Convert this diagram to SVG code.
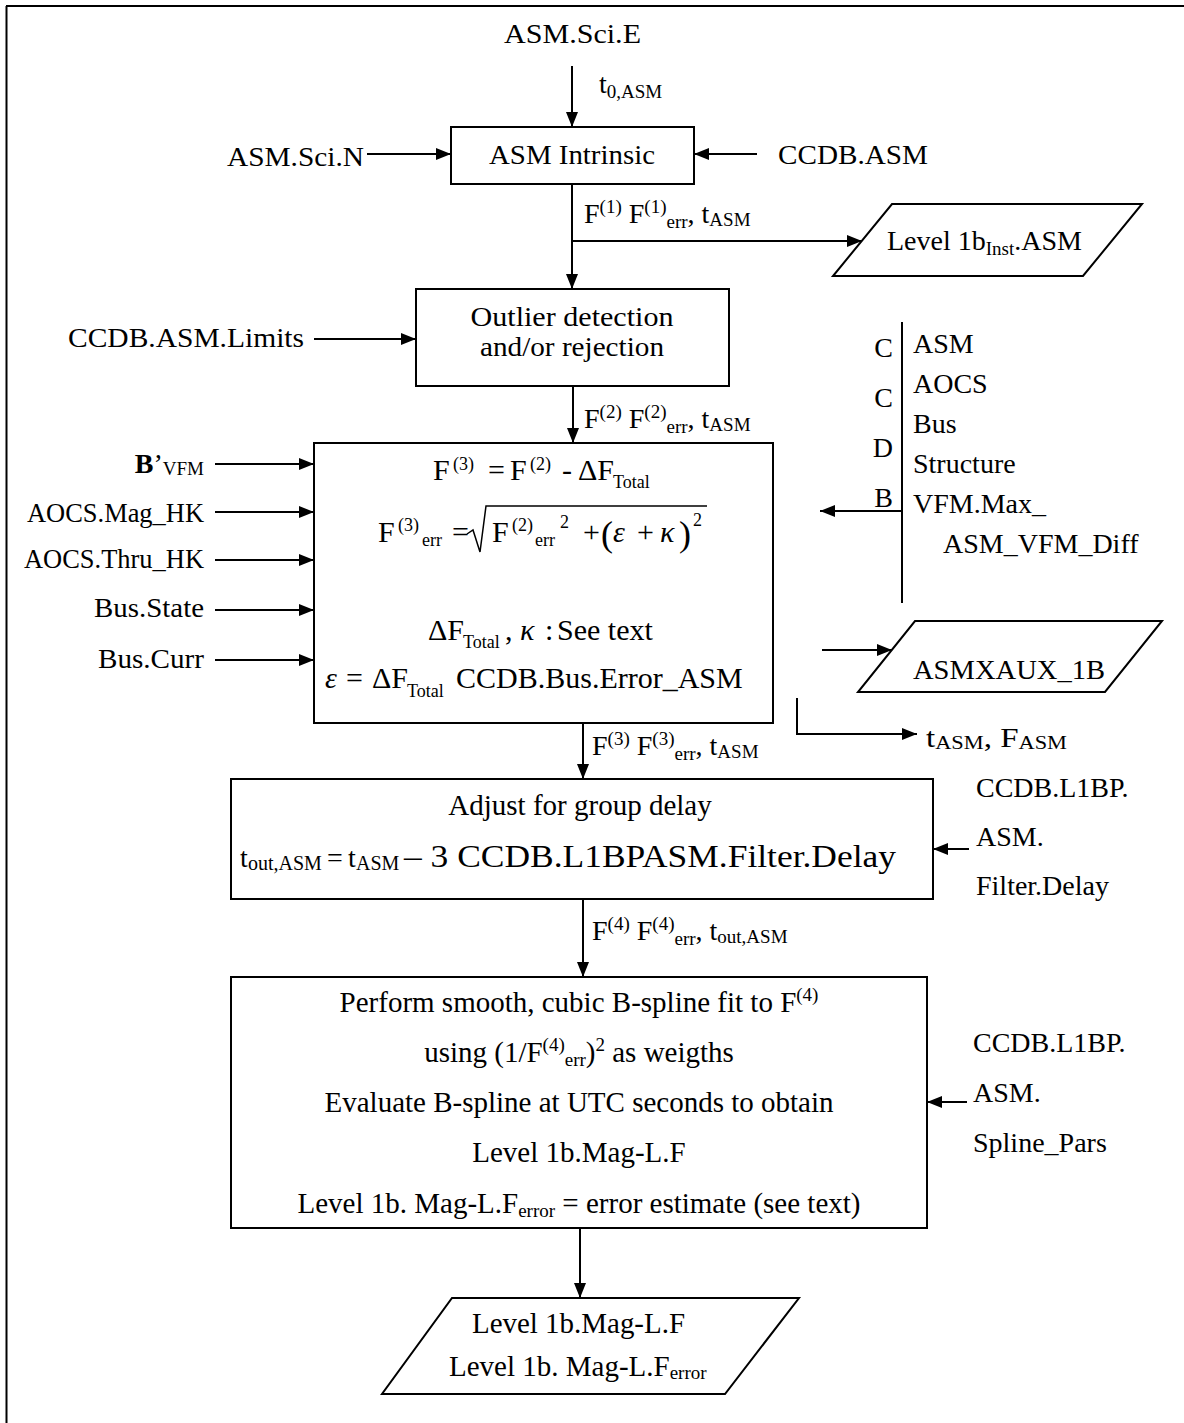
<svg xmlns="http://www.w3.org/2000/svg" width="1184" height="1423" viewBox="0 0 1184 1423">
<style>
text{font-family:"Liberation Serif","Times New Roman",serif;font-size:28px;fill:#000}
.s{font-size:19px}
.f{font-size:30px}
.fs{font-size:18px}
.b{font-size:29px}
.i{font-style:italic}
.bold{font-weight:bold}
.ln{stroke:#000;stroke-width:2;fill:none}
.box{stroke:#000;stroke-width:2;fill:#fff}
.ar{marker-end:url(#ah)}
.mid{text-anchor:middle}
.end{text-anchor:end}
</style>
<defs>
<marker id="ah" markerWidth="15" markerHeight="12" refX="15" refY="6" orient="auto" markerUnits="userSpaceOnUse"><path d="M0,0 L15,6 L0,12 z" fill="#000"/></marker>
</defs>
<rect width="1184" height="1423" fill="#fff"/>
<g id="frame" class="ln">
<line x1="6" y1="6" x2="1184" y2="6"/>
<line x1="6.5" y1="6" x2="6.5" y2="1423"/>
</g>

<g id="connectors" class="ln">
<line class="ar" x1="572" y1="66" x2="572" y2="127"/>
<line class="ar" x1="367" y1="154" x2="451" y2="154"/>
<line class="ar" x1="757" y1="154" x2="694" y2="154"/>
<line class="ar" x1="572" y1="184" x2="572" y2="289"/>
<line class="ar" x1="572" y1="241" x2="862" y2="241"/>
<line class="ar" x1="314" y1="339" x2="416" y2="339"/>
<line class="ar" x1="573" y1="386" x2="573" y2="443"/>
<line class="ar" x1="215" y1="464" x2="314" y2="464"/>
<line class="ar" x1="215" y1="512" x2="314" y2="512"/>
<line class="ar" x1="215" y1="560" x2="314" y2="560"/>
<line class="ar" x1="215" y1="610" x2="314" y2="610"/>
<line class="ar" x1="215" y1="660" x2="314" y2="660"/>
<line x1="902" y1="322" x2="902" y2="603"/>
<line class="ar" x1="902" y1="511" x2="820" y2="511"/>
<line class="ar" x1="822" y1="650" x2="892" y2="650"/>
<polyline class="ar" points="797,698 797,734 917,734"/>
<line class="ar" x1="583" y1="723" x2="583" y2="779"/>
<line class="ar" x1="969" y1="849" x2="933" y2="849"/>
<line class="ar" x1="583" y1="899" x2="583" y2="977"/>
<line class="ar" x1="967" y1="1102" x2="927" y2="1102"/>
<line class="ar" x1="580" y1="1228" x2="580" y2="1298"/>
</g>

<g id="in-asm-sci-e"><text x="504" y="43" textLength="137" lengthAdjust="spacingAndGlyphs">ASM.Sci.E</text></g>
<g id="lbl-t0"><text x="599" y="93">t<tspan class="s" dy="5">0,ASM</tspan></text></g>
<g id="in-asm-sci-n"><text x="227" y="166" textLength="137" lengthAdjust="spacingAndGlyphs">ASM.Sci.N</text></g>
<g id="in-ccdb-asm"><text x="778" y="164" textLength="150" lengthAdjust="spacingAndGlyphs">CCDB.ASM</text></g>

<g id="asm-intrinsic">
<rect class="box" x="451" y="127" width="243" height="57"/>
<text x="489" y="164" textLength="166" lengthAdjust="spacingAndGlyphs">ASM Intrinsic</text>
</g>

<g id="lbl-f1"><text x="584" y="223">F<tspan class="s" dy="-10">(1)</tspan><tspan dy="10"> F</tspan><tspan class="s" dy="-10">(1)</tspan><tspan class="s" dy="15">err</tspan><tspan dy="-5">, t</tspan><tspan class="s" dy="3">ASM</tspan></text></g>

<g id="out-level1b-inst">
<polygon class="box" points="892,204 1142,204 1083,276 833,276"/>
<text x="887" y="250">Level 1b<tspan class="s" dy="5">Inst</tspan><tspan dy="-5">.ASM</tspan></text>
</g>

<g id="in-ccdb-limits"><text x="68" y="347" textLength="236" lengthAdjust="spacingAndGlyphs">CCDB.ASM.Limits</text></g>

<g id="outlier">
<rect class="box" x="416" y="289" width="313" height="97"/>
<text class="mid" x="572" y="326" textLength="203" lengthAdjust="spacingAndGlyphs">Outlier detection</text>
<text class="mid" x="572" y="356" textLength="184" lengthAdjust="spacingAndGlyphs">and/or rejection</text>
</g>

<g id="lbl-f2"><text x="584" y="428">F<tspan class="s" dy="-10">(2)</tspan><tspan dy="10"> F</tspan><tspan class="s" dy="-10">(2)</tspan><tspan class="s" dy="15">err</tspan><tspan dy="-5">, t</tspan><tspan class="s" dy="3">ASM</tspan></text></g>

<g id="ccdb-list">
<text class="end" x="893" y="357">C</text>
<text class="end" x="893" y="407">C</text>
<text class="end" x="893" y="457">D</text>
<text class="end" x="893" y="507">B</text>
<text x="913" y="353">ASM</text>
<text x="913" y="393">AOCS</text>
<text x="913" y="433">Bus</text>
<text x="913" y="473">Structure</text>
<text x="913" y="513">VFM.Max_</text>
<text x="943" y="553">ASM_VFM_Diff</text>
</g>

<g id="left-inputs">
<text class="end" x="204" y="473"><tspan class="bold">B</tspan>’<tspan class="s" dy="2">VFM</tspan></text>
<text class="end" x="204" y="522" textLength="177" lengthAdjust="spacingAndGlyphs">AOCS.Mag_HK</text>
<text class="end" x="204" y="568" textLength="180" lengthAdjust="spacingAndGlyphs">AOCS.Thru_HK</text>
<text class="end" x="204" y="617" textLength="110" lengthAdjust="spacingAndGlyphs">Bus.State</text>
<text class="end" x="204" y="668" textLength="106" lengthAdjust="spacingAndGlyphs">Bus.Curr</text>
</g>

<g id="correction">
<rect class="box" x="314" y="443" width="459" height="280"/>
<text class="f"><tspan x="433" y="480">F</tspan><tspan class="fs" x="453" y="470">(3)</tspan><tspan x="488" y="480">=</tspan><tspan x="510" y="480">F</tspan><tspan class="fs" x="530" y="470">(2)</tspan><tspan x="562" y="480">-</tspan><tspan x="578" y="480">ΔF</tspan><tspan class="fs" x="613" y="488">Total</tspan></text>
<text class="f"><tspan x="378" y="542">F</tspan><tspan class="fs" x="398" y="531">(3)</tspan><tspan class="fs" x="422" y="546">err</tspan><tspan x="452" y="542">=</tspan><tspan x="492" y="542">F</tspan><tspan class="fs" x="512" y="531">(2)</tspan><tspan class="fs" x="535" y="546">err</tspan><tspan class="fs" x="560" y="528">2</tspan><tspan x="583" y="542">+</tspan><tspan x="601" y="546" style="font-size:36px">(</tspan><tspan class="i" x="613" y="542">ε</tspan><tspan x="637" y="542">+</tspan><tspan class="i" x="660" y="542">κ</tspan><tspan x="679" y="546" style="font-size:36px">)</tspan><tspan class="fs" x="693" y="526">2</tspan></text>
<polyline class="ln" points="467,534 473,530 480,552 486,506 707,506" style="stroke-width:1.5"/>
<text class="f"><tspan x="428" y="640">ΔF</tspan><tspan class="fs" x="463" y="648">Total</tspan><tspan x="505" y="640">,</tspan><tspan class="i" x="520" y="640">κ</tspan><tspan x="545" y="640">:</tspan><tspan x="557" y="640">See text</tspan></text>
<text class="f"><tspan class="i" x="325" y="688">ε</tspan><tspan x="346" y="688">=</tspan><tspan x="372" y="688">ΔF</tspan><tspan class="fs" x="407" y="697">Total</tspan><tspan x="456" y="688">CCDB.Bus.Error_ASM</tspan></text>
</g>

<g id="out-asmxaux">
<polygon class="box" points="915,621 1162,621 1105,692 858,692"/>
<text x="913" y="679" textLength="192" lengthAdjust="spacingAndGlyphs">ASMXAUX_1B</text>
</g>

<g id="out-tasm-fasm"><text x="926" y="747" textLength="141" lengthAdjust="spacingAndGlyphs">t<tspan class="s" dy="2">ASM</tspan><tspan dy="-2">, F</tspan><tspan class="s" dy="2">ASM</tspan></text></g>

<g id="lbl-f3"><text x="592" y="755">F<tspan class="s" dy="-10">(3)</tspan><tspan dy="10">  F</tspan><tspan class="s" dy="-10">(3)</tspan><tspan class="s" dy="15">err</tspan><tspan dy="-5">, t</tspan><tspan class="s" dy="3">ASM</tspan></text></g>

<g id="group-delay">
<rect class="box" x="231" y="779" width="702" height="120"/>
<text class="b mid" x="580" y="815">Adjust for group delay</text>
<text><tspan x="240" y="867">t</tspan><tspan style="font-size:20px" x="248" y="870">out,ASM</tspan><tspan x="327" y="867">=</tspan><tspan x="348" y="867">t</tspan><tspan style="font-size:20px" x="356" y="870">ASM</tspan></text>
<text x="404" y="867" style="font-size:31px" textLength="492" lengthAdjust="spacingAndGlyphs">– 3 CCDB.L1BPASM.Filter.Delay</text>
</g>

<g id="in-filter-delay">
<text x="976" y="797">CCDB.L1BP.</text>
<text x="976" y="846">ASM.</text>
<text x="976" y="895">Filter.Delay</text>
</g>

<g id="lbl-f4"><text x="592" y="940">F<tspan class="s" dy="-10">(4)</tspan><tspan dy="10">  F</tspan><tspan class="s" dy="-10">(4)</tspan><tspan class="s" dy="15">err</tspan><tspan dy="-5">, t</tspan><tspan class="s" dy="3">out,ASM</tspan></text></g>

<g id="spline-fit">
<rect class="box" x="231" y="977" width="696" height="251"/>
<text class="b mid" x="579" y="1012">Perform smooth, cubic B-spline fit to F<tspan class="s" dy="-11">(4)</tspan></text>
<text class="b mid" x="579" y="1062">using (1/F<tspan class="s" dy="-11">(4)</tspan><tspan class="s" dy="15">err</tspan><tspan dy="-4">)</tspan><tspan class="s" dy="-11">2</tspan><tspan dy="11"> as weigths</tspan></text>
<text class="b mid" x="579" y="1112">Evaluate B-spline at UTC seconds to obtain</text>
<text class="b mid" x="579" y="1162">Level 1b.Mag-L.F</text>
<text class="b mid" x="579" y="1213">Level 1b. Mag-L.F<tspan class="s" dy="4">error</tspan><tspan dy="-4"> = error estimate (see text)</tspan></text>
</g>

<g id="in-spline-pars">
<text x="973" y="1052">CCDB.L1BP.</text>
<text x="973" y="1102">ASM.</text>
<text x="973" y="1152">Spline_Pars</text>
</g>

<g id="out-level1b-mag">
<polygon class="box" points="452,1298 799,1298 725,1394 382,1394"/>
<text class="b" x="472" y="1333" textLength="213" lengthAdjust="spacingAndGlyphs">Level 1b.Mag-L.F</text>
<text class="b" x="449" y="1376">Level 1b. Mag-L.F<tspan class="s" dy="3">error</tspan></text>
</g>
</svg>
